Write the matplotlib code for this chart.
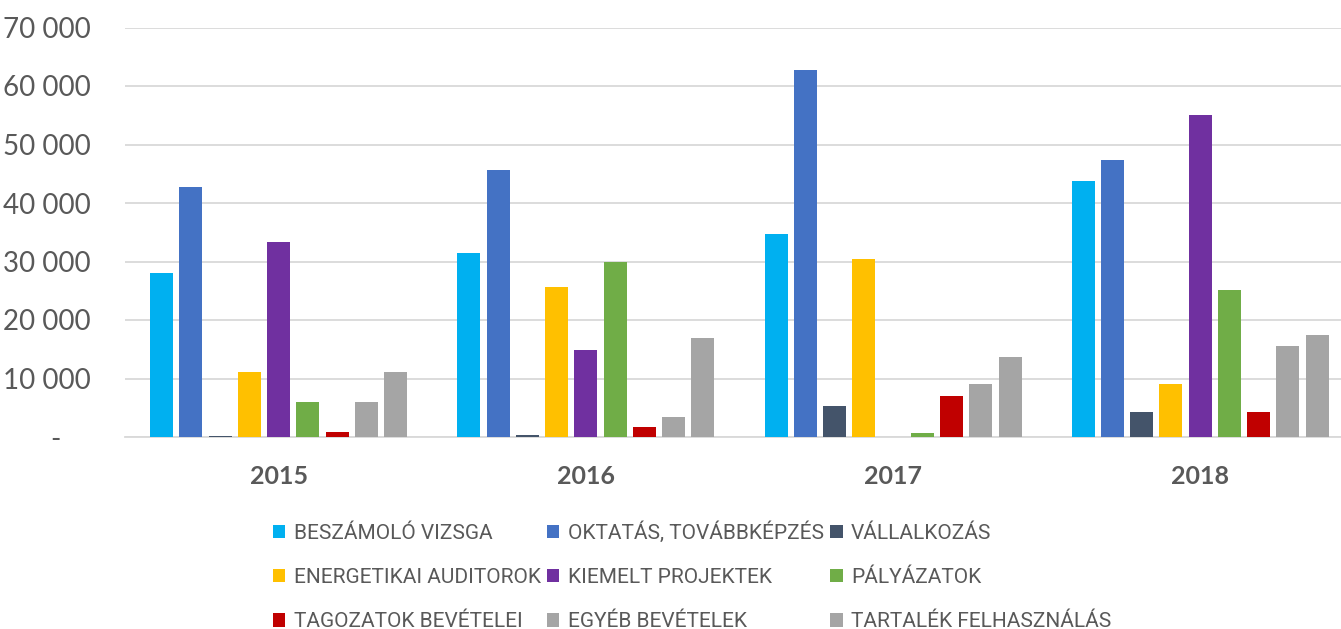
import matplotlib
matplotlib.use("Agg")
import matplotlib.pyplot as plt
from matplotlib import font_manager
from matplotlib.ticker import FuncFormatter
import numpy as np

years = ["2015", "2016", "2017", "2018"]
series = ["BESZÁMOLÓ VIZSGA", "OKTATÁS, TOVÁBBKÉPZÉS", "VÁLLALKOZÁS",
          "ENERGETIKAI AUDITOROK", "KIEMELT PROJEKTEK", "PÁLYÁZATOK",
          "TAGOZATOK BEVÉTELEI", "EGYÉB BEVÉTELEK", "TARTALÉK FELHASZNÁLÁS"]
beszamolo = [28000, 31500, 34700, 43700]
oktatas = [42800, 45600, 62800, 47400]
vallalkozas = [200, 300, 5300, 4200]
energetikai = [11150, 25700, 30500, 9000]
kiemelt = [33250, 14800, 0, 55000]
palyazatok = [5950, 29900, 750, 25100]
tagozatok = [900, 1650, 6950, 4300]
egyeb = [5900, 3500, 9050, 15500]
tartalek = [11100, 17000, 13600, 17500]
values = [beszamolo, oktatas, vallalkozas, energetikai, kiemelt,
          palyazatok, tagozatok, egyeb, tartalek]
colors = ["#00B0F0", "#4472C4", "#44546A", "#FFC000", "#7030A0",
          "#70AD47", "#C00000", "#A5A5A5", "#A5A5A5"]
yticks = [0, 10000, 20000, 30000, 40000, 50000, 60000, 70000]

avail = {f.name for f in font_manager.fontManager.ttflist}
tick_font = "Lato" if "Lato" in avail else "DejaVu Sans"
leg_font = "Roboto" if "Roboto" in avail else "DejaVu Sans"

W, H = 1341, 629
fig = plt.figure(figsize=(W / 100, H / 100), dpi=100)
left, right, top, bottom = 125, 1341, 27.5, 437
ax = fig.add_axes([left / W, 1 - bottom / H, (right - left) / W, (bottom - top) / H])

group_px = 307.2
slot = 29.25 / group_px
bw = 23 / group_px
x = np.arange(len(years))
n = len(series)
handles = []
for i, (vals, c, name) in enumerate(zip(values, colors, series)):
    off = (i - (n - 1) / 2) * slot
    b = ax.bar(x + off, vals, width=bw, color=c, label=name, zorder=3, linewidth=0)
    handles.append(b)

ax.set_ylim(0, 70000)
ax.set_xlim(-0.5, -0.5 + (right - left) / group_px)
ax.set_yticks(yticks)


def fmt(v, pos):
    if v == 0:
        return "-    "
    return f"{int(v):,}".replace(",", " ")


ax.yaxis.set_major_formatter(FuncFormatter(fmt))
ax.set_xticks(x)
ax.set_xticklabels(years, fontsize=18, fontweight="bold", color="#595959", family=tick_font)
for lab in ax.get_yticklabels():
    lab.set_fontsize(20)
    lab.set_color("#595959")
    lab.set_family(tick_font)
ax.tick_params(axis="both", length=0)
ax.tick_params(axis="y", pad=25)
ax.tick_params(axis="x", pad=20)
ax.grid(axis="y", color="#D9D9D9", linewidth=1.3, zorder=0)
for s in ["top", "right", "left"]:
    ax.spines[s].set_visible(False)
ax.spines["bottom"].set_color("#D9D9D9")
ax.spines["bottom"].set_linewidth(1.3)

order = [0, 3, 6, 1, 4, 7, 2, 5, 8]
leg = fig.legend([handles[k] for k in order], [series[k] for k in order],
                 ncol=3, loc="upper center", bbox_to_anchor=(692 / W, 1 - 521 / H),
                 frameon=False, prop={"family": leg_font, "size": 15},
                 handlelength=0.6, handleheight=0.6, handletextpad=0.4,
                 columnspacing=0.3, labelspacing=1.22, borderpad=0, borderaxespad=0)
for t in leg.get_texts():
    t.set_color("#595959")

fig.savefig("out.png", dpi=100)
